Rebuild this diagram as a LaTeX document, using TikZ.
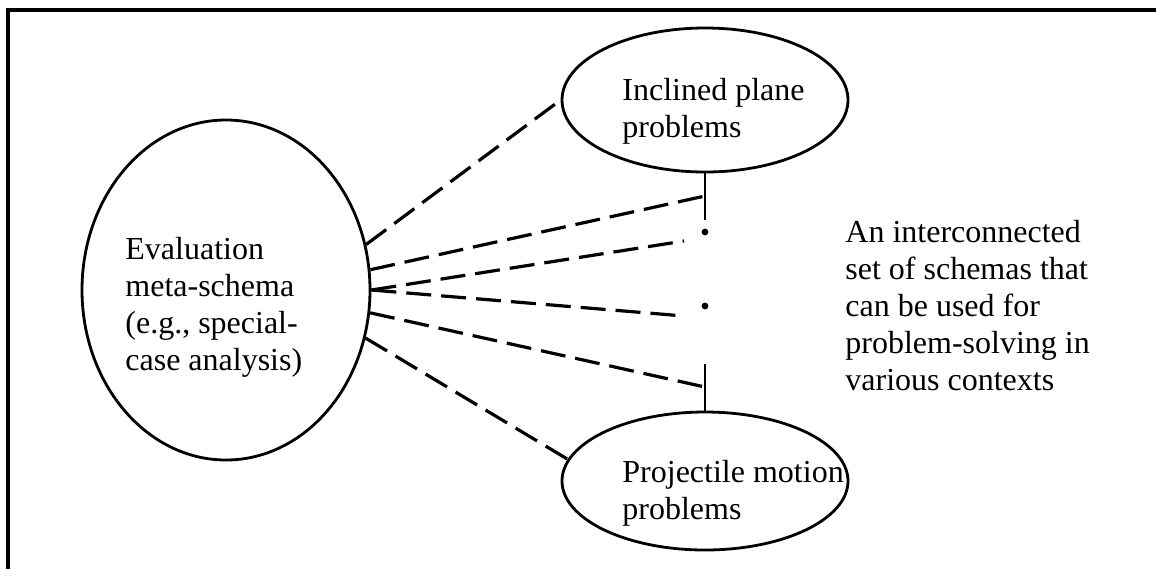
\documentclass[tikz,border=0pt]{standalone}
\usepackage{fontspec}
\setmainfont{Liberation Serif}
\usetikzlibrary{shapes.geometric}
\begin{document}
\begin{tikzpicture}[x=0.5pt,y=-0.5pt,
  oval/.style={ellipse, draw, line width=1.4pt, inner sep=0pt},
  link/.style={line width=1.6pt, dash pattern=on 12.5pt off 5pt},
  stem/.style={line width=1.3pt},
  dotmark/.style={circle, fill, inner sep=0pt, minimum size=3.4pt},
  txt/.style={font=\fontsize{16}{18.4}\selectfont, align=left, inner sep=0pt, anchor=base west},
  frameline/.style={line width=2pt}]
\useasboundingbox (0,0) rectangle (1156,569);
% frame (top and left only)
\coordinate (ftop) at (1156,10);
\coordinate (fcorner) at (8,10);
\coordinate (fbot) at (8,569);
\draw[frameline] (ftop) -- (fcorner) -- (fbot);
% ellipses
\node[oval, minimum width=144pt, minimum height=170pt] (meta) at (226,290) {};
\node[oval, minimum width=143pt, minimum height=72pt] (incl) at (705,100) {};
\node[oval, minimum width=143pt, minimum height=69pt] (proj) at (705,481) {};
% texts (anchored at the baseline of the last line)
\node[txt] (metatext) at (125,370) {Evaluation\\meta-schema\\(e.g., special-\\case analysis)};
\node[txt] (incltext) at (622,137) {Inclined plane\\problems};
\node[txt] (projtext) at (622,519) {Projectile motion\\problems};
\node[txt] (desc) at (845,390) {An interconnected\\set of schemas that\\can be used for\\problem-solving in\\various contexts};
% chain of schemas
\coordinate (stemtop) at (705,220);
\coordinate (stembot) at (705,364);
\coordinate (t1) at (705,196);
\coordinate (t2) at (705,387);
\coordinate (e3) at (684,241);
\coordinate (e4) at (684,316);
\node[dotmark] (d1) at (705,232) {};
\node[dotmark] (d2) at (705,306) {};
\draw[stem] (incl.south) -- (stemtop);
\draw[stem] (stembot) -- (proj.north);
% dashed links
\draw[link] (meta.18) -- (incl.west);
\draw[link] (meta.8.7) -- (t1);
\draw[link] (meta.east) -- (e3);
\draw[link] (meta.east) -- (e4);
\draw[link] (meta.-9.9) -- (t2);
\draw[link] (meta.-19) -- (proj.171);
\end{tikzpicture}
\end{document}
